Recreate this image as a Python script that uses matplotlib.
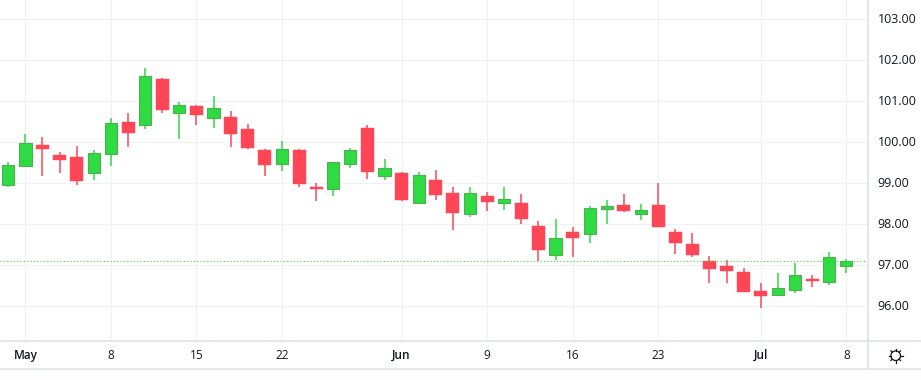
"""
Candlestick chart, daily bars from May to early July, TradingView look.
"""

import numpy as np
import matplotlib
matplotlib.use('Agg')
import matplotlib.pyplot as plt
from matplotlib.lines import Line2D

plt.rcParams['font.family'] = ['Open Sans', 'DejaVu Sans']

# daily bars
opens = [98.97, 99.43, 99.93, 99.69, 99.64, 99.26, 99.72, 100.50, 100.41, 101.54,
         100.72, 100.89, 100.60, 100.62, 100.33, 99.81, 99.48, 99.81, 98.92, 98.85,
         99.46, 100.36, 99.17, 99.26, 98.51, 99.09, 98.77, 98.24, 98.68, 98.53,
         98.53, 97.97, 97.24, 97.82, 97.77, 98.38, 98.47, 98.24, 98.47, 97.81,
         97.52, 97.10, 96.98, 96.84, 96.37, 96.28, 96.39, 96.67, 96.59, 96.98]
closes = [99.44, 99.98, 99.84, 99.57, 99.06, 99.73, 100.46, 100.23, 101.61, 100.79,
          100.90, 100.67, 100.83, 100.20, 99.86, 99.45, 99.83, 98.98, 98.87, 99.52,
          99.81, 99.27, 99.37, 98.60, 99.20, 98.72, 98.28, 98.76, 98.54, 98.61,
          98.14, 97.38, 97.67, 97.67, 98.39, 98.45, 98.33, 98.35, 97.93, 97.54,
          97.25, 96.91, 96.86, 96.35, 96.25, 96.45, 96.76, 96.62, 97.20, 97.11]
highs = [99.52, 100.20, 100.13, 99.76, 99.91, 99.81, 100.59, 100.72, 101.81, 101.57,
         100.98, 100.91, 101.13, 100.76, 100.45, 99.84, 100.03, 99.84, 99.01, 99.52,
         99.87, 100.43, 99.60, 99.28, 99.28, 99.33, 98.92, 98.92, 98.80, 98.92,
         98.75, 98.07, 98.14, 97.94, 98.45, 98.59, 98.74, 98.50, 99.00, 97.89,
         97.79, 97.23, 97.13, 96.93, 96.57, 96.81, 97.06, 96.76, 97.33, 97.15]
lows = [98.92, 99.41, 99.18, 99.25, 98.96, 99.08, 99.42, 99.89, 100.33, 100.72,
        100.08, 100.42, 100.35, 99.89, 99.84, 99.18, 99.30, 98.91, 98.58, 98.68,
        99.38, 99.11, 99.07, 98.57, 98.50, 98.60, 97.87, 98.19, 98.33, 98.36,
        98.02, 97.11, 97.14, 97.21, 97.54, 98.01, 98.30, 98.11, 97.93, 97.28,
        97.20, 96.57, 96.57, 96.35, 95.96, 96.25, 96.33, 96.47, 96.52, 96.81]
last_price = 97.10

# which bar each date label sits on
date_bars = [1, 6, 11, 16, 23, 28, 33, 38, 44, 49]
date_labels = ['May', '8', '15', '22', 'Jun', '9', '16', '23', 'Jul', '8']
month_labels = ['May', 'Jun', 'Jul']
price_ticks = [96, 97, 98, 99, 100, 101, 102, 103]

up_color = '#2fdb42'
up_edge = '#4caf50'
down_color = '#ff4657'
grid_color = '#f0f1f3'
border_color = '#e0e3eb'
text_color = '#131722'

W, H = 921., 380.
fig = plt.figure(figsize=(W/100, H/100), dpi=100)
# plot area runs to x=867 and y=341 in pixels
ax = fig.add_axes([0, 1 - 341/H, 867/W, 341/H])

x = np.arange(len(opens))
opens = np.array(opens)
closes = np.array(closes)
highs = np.array(highs)
lows = np.array(lows)
up = closes >= opens

ax.set_axisbelow(True)
ax.set_xticks(date_bars)
ax.set_yticks(price_ticks)
ax.grid(True, color=grid_color, lw=0.8)

ax.vlines(x[up], lows[up], highs[up], color=up_color, lw=1.1, zorder=2)
ax.vlines(x[~up], lows[~up], highs[~up], color=down_color, lw=1.1, zorder=2)
ax.bar(x[up], closes[up]-opens[up], bottom=opens[up], width=0.72,
       color=up_color, edgecolor=up_edge, lw=0.8, zorder=3)
ax.bar(x[~up], closes[~up]-opens[~up], bottom=opens[~up], width=0.76,
       color=down_color, edgecolor=down_color, lw=0.3, zorder=3)
ax.axhline(last_price, color=up_color, lw=0.8, ls=(0, (1, 2)), zorder=4)

ax.set_xlim(-0.485, 50.21)
ax.set_ylim(95.155, 103.47)

for s in ax.spines.values():
    s.set_visible(False)
ax.tick_params(length=0, labelleft=False, labelbottom=False)

# date labels go in the strip under the plot, price labels to the right
for b, lab in zip(date_bars, date_labels):
    px = ax.transData.transform((b, 0))[0]
    weight = 'semibold' if lab in month_labels else 'normal'
    fig.text(px/W, 1 - 355.5/H, lab, ha='center', va='center', fontsize=8.5,
             color=text_color, fontweight=weight)
for p in price_ticks:
    py = ax.transData.transform((0, p))[1]
    fig.text(877.5/W, py/H, '%.2f' % p, ha='left', va='center', fontsize=9,
             color=text_color)

# frame lines of the widget
def fig_line(xs, ys, color=border_color, lw=1.2):
    fig.add_artist(Line2D([v/W for v in xs], [1 - v/H for v in ys], color=color, lw=lw))

fig_line([0, W], [341, 341])
fig_line([0, W], [369, 369])
fig_line([867.5, 867.5], [0, 369])

# the little sun button
cx, cy = 895.7, 355.7
t = np.linspace(0, 2*np.pi, 40)
fig_line(cx + 4.8*np.cos(t), cy + 4.8*np.sin(t), color='#131722', lw=0.9)
for a in np.arange(8)*np.pi/4:
    fig_line([cx + 4.8*np.cos(a), cx + 6.8*np.cos(a)],
             [cy + 4.8*np.sin(a), cy + 6.8*np.sin(a)], color='#131722', lw=0.9)

fig.savefig('out.png', dpi=100)
